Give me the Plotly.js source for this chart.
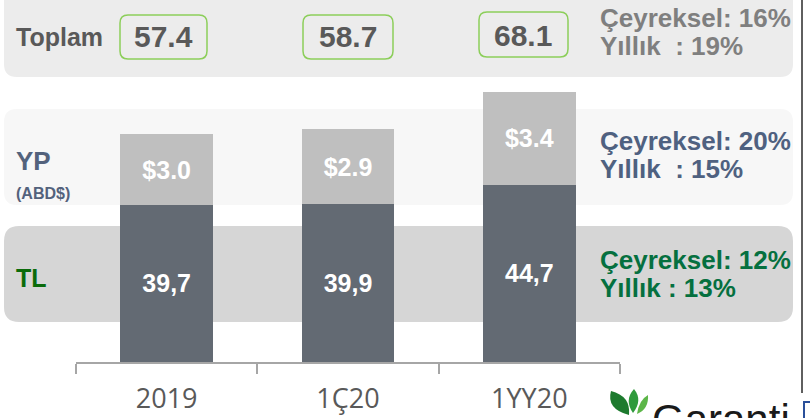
<!DOCTYPE html>
<html>
<head>
<meta charset="utf-8">
<script src="https://cdn.plot.ly/plotly-3.0.1.min.js"></script>
<style>html,body{margin:0;padding:0;background:#fff;}#chart{width:810px;height:418px;}</style>
</head>
<body>
<div id="chart"></div>
<script>
// ---- data ----
const categories = ["2019", "1Ç20", "1YY20"];
const tlValues = [39.7, 39.9, 44.7];          // TL (billion TL)
const tlLabels = ["39,7", "39,9", "44,7"];
const ypValuesTL = [17.7, 18.8, 23.4];        // YP expressed in TL
const ypLabels = ["$3.0", "$2.9", "$3.4"];    // YP in US$
const totals = [57.4, 58.7, 68.1];
const totalLabels = ["57.4", "58.7", "68.1"];
const growthTop = ["Çeyreksel: 16%", "Yıllık  : 19%"];
const growthYP = ["Çeyreksel: 20%", "Yıllık  : 15%"];
const growthTL = ["Çeyreksel: 12%", "Yıllık : 13%"];

// ---- layout helpers ----
const W = 810, H = 418;
const X = px => px / W;
const Y = py => 1 - py / H;
function rr(x0, y0, x1, y1, r) {
  const P = (x, y) => X(x).toFixed(5) + "," + Y(y).toFixed(5);
  return "M" + P(x0 + r, y0) + " L" + P(x1 - r, y0) + " Q" + P(x1, y0) + " " + P(x1, y0 + r) +
    " L" + P(x1, y1 - r) + " Q" + P(x1, y1) + " " + P(x1 - r, y1) +
    " L" + P(x0 + r, y1) + " Q" + P(x0, y1) + " " + P(x0, y1 - r) +
    " L" + P(x0, y0 + r) + " Q" + P(x0, y0) + " " + P(x0 + r, y0) + " Z";
}

const SB = "Liberation Sans, Arial, sans-serif";

const traces = [
  {
    type: "bar", x: categories, y: tlValues, name: "TL",
    marker: { color: "#636a73" }, width: 0.51,
    text: tlLabels, textposition: "inside", insidetextanchor: "middle",
    textangle: 0, constraintext: "none",
    textfont: { family: SB, size: 25, color: "#ffffff", weight: "bold" },
    hoverinfo: "none"
  },
  {
    type: "bar", x: categories, y: ypValuesTL, name: "YP",
    marker: { color: "#bfbfbf" }, width: 0.51,
    text: ypLabels, textposition: "inside", insidetextanchor: "middle",
    textangle: 0, constraintext: "none",
    textfont: { family: SB, size: 25, color: "#ffffff", weight: "bold" },
    hoverinfo: "none"
  }
];

const shapes = [
  { type: "path", xref: "paper", yref: "paper", layer: "below", path: rr(4, -20, 793, 77, 13), fillcolor: "#ececec", line: { width: 0 } },
  { type: "path", xref: "paper", yref: "paper", layer: "below", path: rr(4, 109, 793, 205, 13), fillcolor: "#f7f7f7", line: { width: 0 } },
  { type: "path", xref: "paper", yref: "paper", layer: "below", path: rr(4, 226, 793, 322, 15), fillcolor: "#d6d6d6", line: { width: 0 } },
  // total boxes
  { type: "path", xref: "paper", yref: "paper", path: rr(120, 15, 207, 59, 8), fillcolor: "rgba(0,0,0,0)", line: { color: "#8cce5a", width: 1.5 } },
  { type: "path", xref: "paper", yref: "paper", path: rr(303, 15, 393, 59, 8), fillcolor: "rgba(0,0,0,0)", line: { color: "#8cce5a", width: 1.5 } },
  { type: "path", xref: "paper", yref: "paper", path: rr(479, 12, 568, 57, 8), fillcolor: "rgba(0,0,0,0)", line: { color: "#8cce5a", width: 1.5 } },
  // right divider
  { type: "line", xref: "paper", yref: "paper", x0: X(802), x1: X(802), y0: Y(0), y1: Y(393), line: { color: "#5f5f5f", width: 2 } },
  // logo leaves
  { type: "path", xref: "paper", yref: "paper", path: "M" + X(629) + "," + Y(415) + " Q" + X(606) + "," + Y(409) + " " + X(611) + "," + Y(391) + " Q" + X(631) + "," + Y(396) + " " + X(629) + "," + Y(415) + " Z", fillcolor: "#1d7a2e", line: { width: 0 } },
  { type: "path", xref: "paper", yref: "paper", path: "M" + X(633) + "," + Y(413) + " Q" + X(624) + "," + Y(400) + " " + X(634) + "," + Y(389) + " Q" + X(643) + "," + Y(400) + " " + X(633) + "," + Y(413) + " Z", fillcolor: "#2f9a3c", line: { width: 0 } },
  { type: "path", xref: "paper", yref: "paper", path: "M" + X(637) + "," + Y(414) + " Q" + X(639) + "," + Y(400) + " " + X(648) + "," + Y(395) + " Q" + X(649) + "," + Y(409) + " " + X(637) + "," + Y(414) + " Z", fillcolor: "#5cb648", line: { width: 0 } },
  { type: "rect", xref: "paper", yref: "paper", x0: X(804), x1: X(814), y0: Y(402), y1: Y(422), fillcolor: "rgba(0,0,0,0)", line: { color: "#2a4f9a", width: 2 } }
];

const boxShift = [-3, 0, -6];
const boxY = [37, 37, 35];
const annotations = [];
function txt(text, xpx, ypx, font, anchor) {
  annotations.push({ xref: "paper", yref: "paper", x: X(xpx), y: Y(ypx), text: text,
    showarrow: false, xanchor: anchor || "left", yanchor: "middle", font: font });
}
txt("<b>Toplam</b>", 14, 37, { family: SB, size: 25, color: "#595959" });
txt("<b>YP</b>", 14, 161, { family: SB, size: 26, color: "#53627c" });
txt("<b>(ABD$)</b>", 14, 193, { family: SB, size: 16, color: "#53627c" });
txt("<b>TL</b>", 14, 278, { family: SB, size: 25, color: "#0b6b0b" });
totalLabels.forEach((t, i) => {
  annotations.push({ xref: "x", yref: "paper", x: i, y: Y(boxY[i]), xshift: boxShift[i],
    text: "<b>" + t + "</b>", showarrow: false, xanchor: "center", yanchor: "middle",
    font: { family: SB, size: 30, color: "#595959" } });
});
const gx = 598;
const gs = 26;
txt("<b>" + growthTop[0] + "</b>", gx, 18, { family: SB, size: gs, color: "#7f7f7f" });
txt("<b>" + growthTop[1] + "</b>", gx, 46, { family: SB, size: gs, color: "#7f7f7f" });
txt("<b>" + growthYP[0] + "</b>", gx, 141, { family: SB, size: gs, color: "#4f6180" });
txt("<b>" + growthYP[1] + "</b>", gx, 169, { family: SB, size: gs, color: "#4f6180" });
txt("<b>" + growthTL[0] + "</b>", gx, 260, { family: SB, size: gs, color: "#05703f" });
txt("<b>" + growthTL[1] + "</b>", gx, 288, { family: SB, size: gs, color: "#05703f" });
txt("Garanti", 650, 420, { family: SB, size: 42, color: "#1a1a1a" });

const layout = {
  width: W, height: H,
  margin: { l: 0, r: 0, t: 0, b: 0 },
  paper_bgcolor: "#ffffff", plot_bgcolor: "rgba(0,0,0,0)",
  barmode: "stack", showlegend: false,
  xaxis: {
    type: "category", domain: [X(76), X(620)], range: [-0.5, 2.5],
    tickson: "boundaries", ticks: "outside", ticklen: 10, tickwidth: 2, tickcolor: "#a6a6a6",
    showline: true, linecolor: "#a6a6a6", linewidth: 2, showgrid: false, zeroline: false,
    tickfont: { family: "Open Sans, sans-serif", size: 27, color: "#595959" },
    ticklabelstandoff: 12
  },
  yaxis: { domain: [1 - 362 / H, 1], range: [0, 362 / 3.965], visible: false, fixedrange: true },
  shapes: shapes,
  annotations: annotations
};

Plotly.newPlot("chart", traces, layout, { staticPlot: true, displayModeBar: false });
</script>
</body>
</html>
